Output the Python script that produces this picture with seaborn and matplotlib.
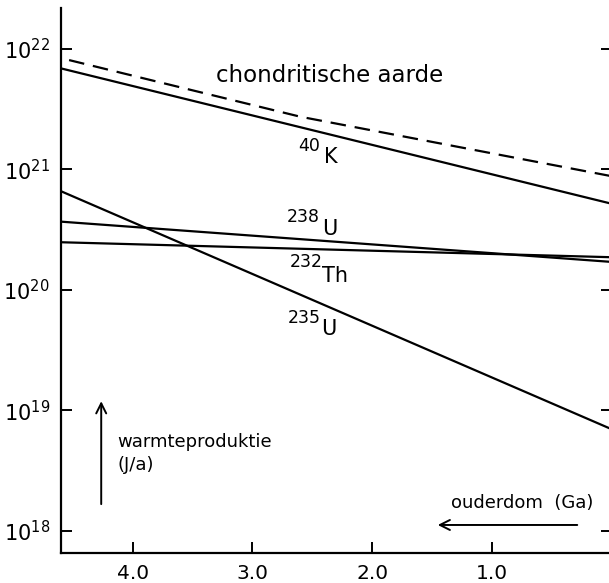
import numpy as np
import pandas as pd
import matplotlib
matplotlib.use("Agg")
import matplotlib.pyplot as plt
from matplotlib.ticker import FixedLocator, NullLocator, FixedFormatter
import seaborn as sns

# ---- data ----
ages = [4.6, 0.0]                      # Ga
k40 = [6.9e21, 5.2e20]                 # J/a
u238 = [3.69e20, 1.71e20]
th232 = [2.49e20, 1.87e20]
u235 = [6.6e20, 7.0e18]
total_ages = [4.6, 2.6, 0.0]
total = [8.4e21, 2.74e21, 8.8e20]      # chondritische aarde (dashed)

x_ticks = [4.0, 3.0, 2.0, 1.0]
x_ticklabels = ["4.0", "3.0", "2.0", "1.0"]
y_ticks = [1e18, 1e19, 1e20, 1e21, 1e22]
y_ticklabels = [r"$10^{18}$", r"$10^{19}$", r"$10^{20}$", r"$10^{21}$", r"$10^{22}$"]

sns.set_style("ticks")
plt.rcParams["font.family"] = ["DejaVu Sans"]
plt.rcParams["mathtext.fontset"] = "dejavusans"
plt.rcParams["text.color"] = "black"
plt.rcParams["axes.labelcolor"] = "black"
plt.rcParams["xtick.color"] = "black"
plt.rcParams["ytick.color"] = "black"

df = pd.concat([
    pd.DataFrame({"age": ages, "heat": k40, "iso": "K40"}),
    pd.DataFrame({"age": ages, "heat": u238, "iso": "U238"}),
    pd.DataFrame({"age": ages, "heat": th232, "iso": "Th232"}),
    pd.DataFrame({"age": ages, "heat": u235, "iso": "U235"}),
], ignore_index=True)
df_tot = pd.DataFrame({"age": total_ages, "heat": total})

W, H = 609, 583
fig = plt.figure(figsize=(W / 100, H / 100), dpi=100)
ax = fig.add_axes([61 / W, 1 - 552.5 / H, (611.5 - 61) / W, (552.5 - 8) / H])

for iso in ["K40", "U238", "Th232", "U235"]:
    sns.lineplot(data=df[df["iso"] == iso], x="age", y="heat", ax=ax,
                 color="black", lw=1.6, legend=False)
sns.lineplot(data=df_tot, x="age", y="heat", ax=ax, color="black", lw=1.6,
             legend=False, linestyle=(0, (7, 4)))

ax.set_yscale("log")
ax.set_xlim(4.6, 0.0)
ax.set_ylim(10 ** 17.8216, 10 ** 22.34)
ax.xaxis.set_major_locator(FixedLocator(x_ticks))
ax.xaxis.set_major_formatter(FixedFormatter(x_ticklabels))
ax.yaxis.set_major_locator(FixedLocator(y_ticks))
ax.yaxis.set_major_formatter(FixedFormatter(y_ticklabels))
ax.yaxis.set_minor_locator(NullLocator())
ax.xaxis.set_minor_locator(NullLocator())
ax.set_xlabel("")
ax.set_ylabel("")

for s in ["top", "right"]:
    ax.spines[s].set_visible(False)
for s in ["left", "bottom"]:
    ax.spines[s].set_linewidth(1.6)
    ax.spines[s].set_color("black")

ax.tick_params(axis="y", which="major", direction="in", length=8, width=1.4,
               labelsize=15, pad=8, right=True, colors="black")
ax.tick_params(axis="x", which="major", direction="in", length=8, width=1.4,
               labelsize=14.5, pad=8, colors="black")

# labels
ax.text(2.352, 10 ** 21.726, "chondritische aarde", fontsize=16.5,
        ha="center", va="baseline", color="black")

def iso_label(sup, base, xs, ys, xb, yb):
    ax.text(xs, 10 ** ys, sup, fontsize=12.5, ha="left", va="baseline", color="black")
    ax.text(xb, 10 ** yb, base, fontsize=15, ha="left", va="baseline", color="black")

iso_label("40", "K", 2.619, 21.153, 2.400, 21.054)
iso_label("238", "U", 2.711, 20.564, 2.415, 20.456)
iso_label("232", "Th", 2.686, 20.191, 2.415, 20.066)
iso_label("235", "U", 2.703, 19.726, 2.424, 19.627)

ax.text(4.131, 10 ** 18.70, "warmteproduktie", fontsize=13, ha="left", va="baseline", color="black")
ax.text(4.131, 10 ** 18.51, "(J/a)", fontsize=13, ha="left", va="baseline", color="black")
ax.annotate("", xy=(4.264, 10 ** 19.10), xytext=(4.264, 10 ** 18.20),
            arrowprops=dict(arrowstyle="->", lw=1.4, color="black", mutation_scale=18))

ax.text(1.341, 10 ** 18.191, "ouderdom  (Ga)", fontsize=13, ha="left", va="baseline", color="black")
ax.annotate("", xy=(1.475, 10 ** 18.05), xytext=(0.263, 10 ** 18.05),
            arrowprops=dict(arrowstyle="->", lw=1.4, color="black", mutation_scale=18))

fig.savefig("out.png", dpi=100)
